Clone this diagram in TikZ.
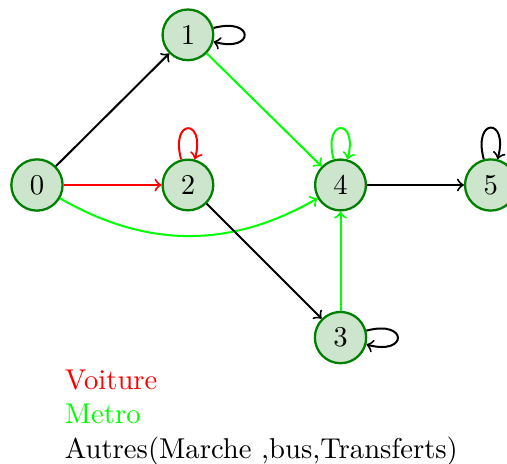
\documentclass[tikz,border=0pt]{standalone}
\usetikzlibrary{arrows,positioning}
\begin{document}
\begin{tikzpicture}[
  >=to, line width=0.7pt,
  state/.style={circle, draw=green!50!black, fill=green!50!black!20, line width=0.8pt},
  voiture/.style={->, red},
  metro/.style={->, green},
  autre/.style={->, black}
]
\useasboundingbox (-0.453,2.267) rectangle (5.76,-3.419);

\node[state] (s0) at (0,0) {0};
\node[state] (s1) at (1.85,1.84) {1};
\node[state] (s2) at (1.85,0) {2};
\node[state] (s4) at (3.72,0) {4};
\node[state] (s5) at (5.56,0) {5};
\node[state] (s3) at (3.72,-1.87) {3};

\draw[autre] (s0) -- (s1);
\draw[voiture] (s0) -- (s2);
\draw[metro] (s0) to[bend right=30] (s4);
\draw[metro] (s1) -- (s4);
\draw[autre] (s2) -- (s3);
\draw[metro] (s3) -- (s4);
\draw[autre] (s4) -- (s5);

\draw[autre] (s1) to[loop right] (s1);
\draw[voiture] (s2) to[loop above] (s2);
\draw[metro] (s4) to[loop above] (s4);
\draw[autre] (s5) to[loop above] (s5);
\draw[autre] (s3) to[loop right] (s3);

\node[anchor=north west, align=left, inner sep=0pt] (legende) at (0.33,-2.25)
  {\textcolor{red}{Voiture}\\ \textcolor{green}{Metro}\\ Autres(Marche ,bus,Transferts)};
\end{tikzpicture}
\end{document}
